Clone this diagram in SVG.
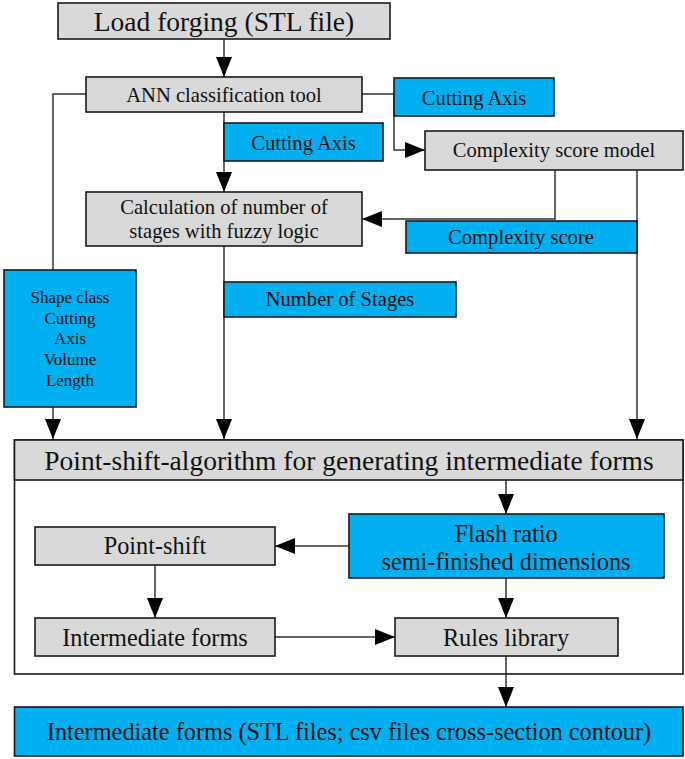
<svg xmlns="http://www.w3.org/2000/svg" width="685" height="759" viewBox="0 0 685 759">
<style>
.g{fill:#d9d9d9;stroke:#1a1a1a;stroke-width:1.6}
.b{fill:#00b0f0;stroke:#1a1a1a;stroke-width:1.6}
.c{fill:none;stroke:#1a1a1a;stroke-width:1.6}
.cn{fill:none;stroke:#333;stroke-width:1.5}
text{fill:#111;text-anchor:middle}
.t28{font-size:27.5px}
.t24{font-size:24.3px}
.t20{font-size:20.6px}
.t17{font-size:17px}
</style>
<defs>
<marker id="ah" markerWidth="20" markerHeight="16" refX="20" refY="8" orient="auto" markerUnits="userSpaceOnUse">
<path d="M0,0 L20,8 L0,16 Z" fill="#000"/>
</marker>
</defs>
<rect x="0" y="0" width="685" height="759" fill="#fff"/>
<g id="connectors">
<path class="cn" d="M224,39 V77" marker-end="url(#ah)"/>
<path class="cn" d="M86,94 H53 V439" marker-end="url(#ah)"/>
<path class="cn" d="M362,94 H394 V150 H425" marker-end="url(#ah)"/>
<path class="cn" d="M224,112 V192" marker-end="url(#ah)"/>
<path class="cn" d="M555,170 V219 H362" marker-end="url(#ah)"/>
<path class="cn" d="M637,170 V439" marker-end="url(#ah)"/>
<path class="cn" d="M224,246 V439" marker-end="url(#ah)"/>
<path class="cn" d="M506,480 V514" marker-end="url(#ah)"/>
<path class="cn" d="M349,546 H275" marker-end="url(#ah)"/>
<path class="cn" d="M155,565 V618" marker-end="url(#ah)"/>
<path class="cn" d="M506,578 V618" marker-end="url(#ah)"/>
<path class="cn" d="M275,637 H395" marker-end="url(#ah)"/>
<path class="cn" d="M506,656 V707" marker-end="url(#ah)"/>
</g>
<g font-family="'Liberation Serif', 'DejaVu Serif', serif">
<g id="load">
<rect class="g" x="58" y="3" width="332" height="36"/>
<text class="t28" x="224" y="31">Load forging (STL file)</text>
</g>
<g id="ann">
<rect class="g" x="86" y="77" width="276" height="35"/>
<text class="t20" x="224" y="102">ANN classification tool</text>
</g>
<g id="cutting1">
<rect class="b" x="394" y="78" width="160" height="38"/>
<text class="t20" x="474" y="105">Cutting Axis</text>
</g>
<g id="cutting2">
<rect class="b" x="224" y="123" width="159" height="38"/>
<text class="t20" x="303.5" y="150">Cutting Axis</text>
</g>
<g id="complexity-model">
<rect class="g" x="425" y="131" width="258" height="39"/>
<text class="t20" x="554" y="157">Complexity score model</text>
</g>
<g id="calc">
<rect class="g" x="86" y="192" width="276" height="54"/>
<text class="t20" x="224" y="214">Calculation of number of</text>
<text class="t20" x="224" y="238">stages with fuzzy logic</text>
</g>
<g id="complexity-score">
<rect class="b" x="406" y="221" width="231" height="32"/>
<text class="t20" x="521" y="244">Complexity score</text>
</g>
<g id="shape">
<rect class="b" x="4" y="270" width="132" height="137"/>
<text class="t17" x="70" y="303">Shape class</text>
<text class="t17" x="70" y="324">Cutting</text>
<text class="t17" x="70" y="344">Axis</text>
<text class="t17" x="70" y="365">Volume</text>
<text class="t17" x="70" y="386">Length</text>
</g>
<g id="stages">
<rect class="b" x="224" y="282" width="232" height="35"/>
<text class="t20" x="340" y="306">Number of Stages</text>
</g>
<g id="algorithm">
<rect class="c" x="14.5" y="440" width="668.5" height="234"/>
<rect class="g" x="14.5" y="440" width="668.5" height="40"/>
<text class="t28" x="349" y="470">Point-shift-algorithm for generating intermediate forms</text>
</g>
<g id="flash">
<rect class="b" x="349" y="514" width="315" height="64"/>
<text class="t24" x="506" y="542">Flash ratio</text>
<text class="t24" x="506" y="570">semi-finished dimensions</text>
</g>
<g id="pointshift">
<rect class="g" x="35" y="527" width="240" height="38"/>
<text class="t24" x="155" y="554">Point-shift</text>
</g>
<g id="intermediate">
<rect class="g" x="35" y="618" width="240" height="38"/>
<text class="t24" x="155" y="646">Intermediate forms</text>
</g>
<g id="rules">
<rect class="g" x="395" y="618" width="223" height="38"/>
<text class="t24" x="506" y="646">Rules library</text>
</g>
<g id="output">
<rect class="b" x="14.5" y="707" width="668.5" height="49"/>
<text class="t24" x="349" y="740">Intermediate forms (STL files; csv files cross-section contour)</text>
</g>
</g>
</svg>
